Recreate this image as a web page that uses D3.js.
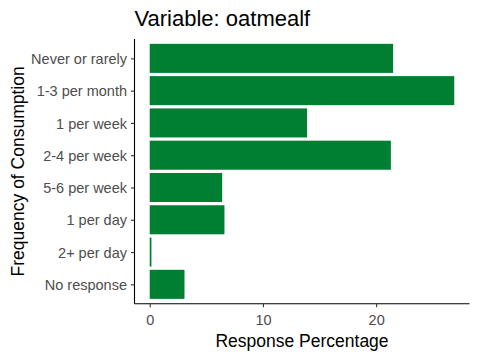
<!DOCTYPE html>
<html><head><meta charset="utf-8">
<script src="https://cdn.jsdelivr.net/npm/d3@7"></script>
<style>body{margin:0;background:#fff}svg{display:block}</style>
</head><body>
<script>
const categories = ["Never or rarely","1-3 per month","1 per week","2-4 per week","5-6 per week","1 per day","2+ per day","No response"];
const values = [21.5, 26.9, 13.9, 21.3, 6.4, 6.6, 0.15, 3.07];
const xTicks = [0, 10, 20];
const titleText = "Variable: oatmealf";
const xTitle = "Response Percentage";
const yTitle = "Frequency of Consumption";

const W = 480, H = 360;
const m = {left: 134.5, right: 10.5, top: 39, bottom: 56.3};
const svg = d3.select("body").append("svg").attr("width", W).attr("height", H);
const pw = W - m.left - m.right, ph = H - m.top - m.bottom;
const g = svg.append("g").attr("transform", `translate(${m.left},${m.top})`);

const maxV = d3.max(values);
const x = d3.scaleLinear().domain([-0.05*maxV, 1.05*maxV]).range([0, pw]);
const n = categories.length;
const step = ph / (n - 1 + 1.2);
const y = d3.scalePoint().domain(categories).range([0.6*step, ph - 0.6*step]);
const bh = step * 0.9;

g.selectAll("rect.bar").data(categories).join("rect")
  .attr("class","bar")
  .attr("x", x(0))
  .attr("y", (d) => y(d) - bh/2)
  .attr("width", (d,i) => x(values[i]) - x(0))
  .attr("height", bh)
  .attr("fill", "#007F32");

const font = "'Liberation Sans', Arial, sans-serif";

const xa = g.append("g").attr("transform", `translate(0,${ph})`)
  .call(d3.axisBottom(x).tickValues(xTicks).tickSize(3.5).tickPadding(4).tickSizeOuter(0));
const ya = g.append("g")
  .call(d3.axisLeft(y).tickSize(3.5).tickPadding(4).tickSizeOuter(0));
[xa, ya].forEach(a => {
  a.attr("font-size", null).attr("font-family", null);
  a.select(".domain").attr("stroke", "#000").attr("stroke-width", 1.1);
  a.selectAll(".tick line").attr("stroke", "#333").attr("stroke-width", 1.1);
  a.selectAll(".tick text").attr("fill", "#4D4D4D").style("font-family", font).style("font-size", "14.5px");
});
ya.selectAll(".tick text").attr("dy", "0.35em");
xa.selectAll(".tick text").attr("dy", null).attr("y", 21.5);
xa.select(".domain").attr("d", `M0,0H${pw}`);
ya.select(".domain").attr("d", `M0,0V${ph}`);

svg.append("text").attr("x", m.left).attr("y", 26)
  .style("font-family", font).style("font-size", "22px").attr("fill", "#000").text(titleText);
svg.append("text").attr("x", m.left + pw/2).attr("y", 347)
  .attr("text-anchor", "middle").style("font-family", font).style("font-size", "17.5px").attr("fill", "#000").text(xTitle);
svg.append("text").attr("transform", `translate(24,${m.top + ph/2}) rotate(-90)`)
  .attr("text-anchor", "middle").style("font-family", font).style("font-size", "17.5px").attr("fill", "#000").text(yTitle);
</script>
</body></html>
